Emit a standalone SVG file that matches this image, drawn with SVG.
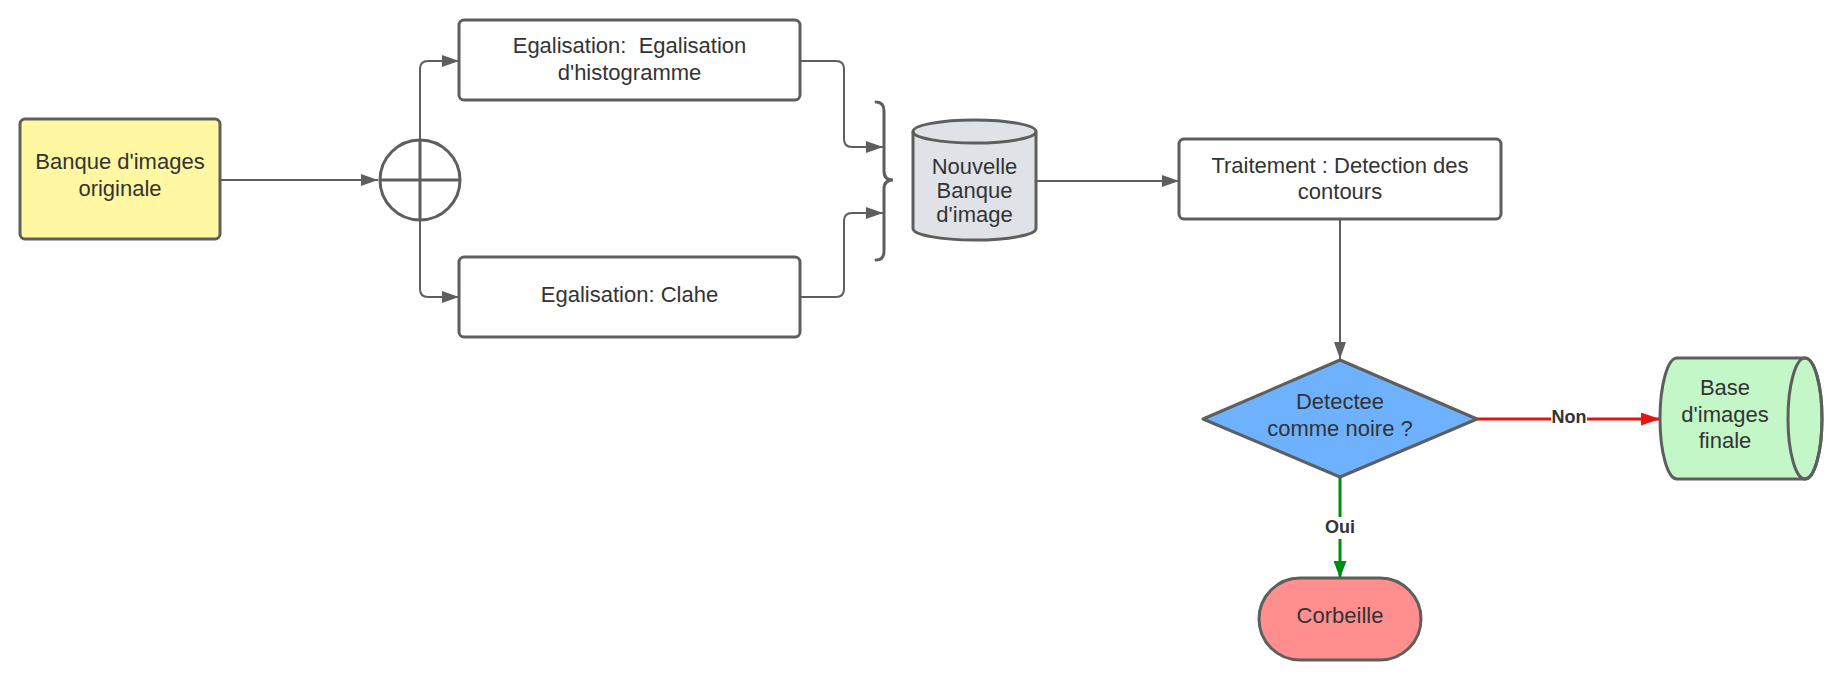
<svg xmlns="http://www.w3.org/2000/svg" width="1841" height="678" viewBox="0 0 1841 678">
<style>
.shape{stroke:#5e5e5e;stroke-width:3;stroke-linejoin:round}
.t{font-family:"Liberation Sans",Arial,sans-serif;font-size:22px;fill:#333333;text-anchor:middle;white-space:pre}
.lbl{font-family:"Liberation Sans",Arial,sans-serif;font-size:18px;font-weight:bold;fill:#333333;text-anchor:middle}
.c{fill:none;stroke:#5e5e5e;stroke-width:2;stroke-linejoin:round}
</style>
<defs>
<marker id="ag" markerWidth="17" markerHeight="12" refX="17" refY="6" orient="auto" markerUnits="userSpaceOnUse"><path d="M0,0 L17,6 L0,12 Z" fill="#5e5e5e"/></marker>
<marker id="ar" markerWidth="19" markerHeight="13" refX="19" refY="6.5" orient="auto" markerUnits="userSpaceOnUse"><path d="M0,0 L19,6.5 L0,13 Z" fill="#e81313"/></marker>
<marker id="agr" markerWidth="17" markerHeight="13" refX="17" refY="6.5" orient="auto" markerUnits="userSpaceOnUse"><path d="M0,0 L17,6.5 L0,13 Z" fill="#008a0e"/></marker>
</defs>
<rect width="1841" height="678" fill="#ffffff"/>
<g id="connectors">
<path class="c" d="M221,180 L378,180" marker-end="url(#ag)"/>
<path class="c" d="M420,140 L420,69 Q420,61 428,61 L459,61" marker-end="url(#ag)"/>
<path class="c" d="M420,220 L420,289 Q420,297 428,297 L459,297" marker-end="url(#ag)"/>
<path class="c" d="M800,61 L836,61 Q844,61 844,69 L844,139 Q844,147 852,147 L883,147" marker-end="url(#ag)"/>
<path class="c" d="M800,297 L836,297 Q844,297 844,289 L844,221 Q844,213 852,213 L883,213" marker-end="url(#ag)"/>
<path class="c" d="M1036,181 L1179,181" marker-end="url(#ag)"/>
<path class="c" d="M1340,219 L1340,359" marker-end="url(#ag)"/>
<path d="M1477,419 L1660,419" fill="none" stroke="#e81313" stroke-width="3" marker-end="url(#ar)"/>
<path d="M1340,477 L1340,578" fill="none" stroke="#008a0e" stroke-width="3" marker-end="url(#agr)"/>
<rect x="1551" y="408" width="36" height="20" fill="#ffffff"/>
<text class="lbl" x="1569" y="423">Non</text>
<rect x="1322" y="517" width="36" height="22" fill="#ffffff"/>
<text class="lbl" x="1340" y="533">Oui</text>
</g>
<g id="banque-originale">
<rect class="shape" x="20" y="119" width="200" height="120" rx="5" fill="#fff7a1"/>
<text class="t" x="120" y="169">Banque d'images</text>
<text class="t" x="120" y="196">originale</text>
</g>
<g id="jonction">
<circle class="shape" cx="420" cy="180" r="40" fill="#ffffff"/>
<path d="M380,180 L460,180 M420,140 L420,220" stroke="#5e5e5e" stroke-width="3"/>
</g>
<g id="egalisation-histogramme">
<rect class="shape" x="459" y="20" width="341" height="80" rx="5" fill="#ffffff"/>
<text class="t" x="629.5" y="53">Egalisation:  Egalisation</text>
<text class="t" x="629.5" y="80">d'histogramme</text>
</g>
<g id="egalisation-clahe">
<rect class="shape" x="459" y="257" width="341" height="80" rx="5" fill="#ffffff"/>
<text class="t" x="629.5" y="302">Egalisation: Clahe</text>
</g>
<g id="accolade">
<path d="M876,102 Q884,102 884,111 L884,171 Q884,180 893,180 Q884,180 884,189 L884,251 Q884,260 876,260" fill="none" stroke="#5e5e5e" stroke-width="3" stroke-linecap="round"/>
</g>
<g id="nouvelle-banque">
<path class="shape" d="M913,131.5 A61.5,11.5 0 0 1 1036,131.5 L1036,228.5 A61.5,11.5 0 0 1 913,228.5 Z" fill="#dfe3e8"/>
<path class="shape" d="M913,131.5 A61.5,11.5 0 0 0 1036,131.5" fill="none"/>
<text class="t" x="974.5" y="174">Nouvelle</text>
<text class="t" x="974.5" y="198">Banque</text>
<text class="t" x="974.5" y="222">d'image</text>
</g>
<g id="traitement">
<rect class="shape" x="1179" y="139" width="322" height="80" rx="5" fill="#ffffff"/>
<text class="t" x="1340" y="173">Traitement : Detection des</text>
<text class="t" x="1340" y="199">contours</text>
</g>
<g id="decision">
<path class="shape" d="M1340,360 L1477,419 L1340,477 L1203,419 Z" fill="#6db1ff"/>
<text class="t" x="1340" y="409">Detectee</text>
<text class="t" x="1340" y="436">comme noire ?</text>
</g>
<g id="base-finale">
<path class="shape" d="M1677,358 L1805,358 A17,60.5 0 0 1 1805,479 L1677,479 A17,60.5 0 0 1 1677,358 Z" fill="#c3f7c8"/>
<ellipse class="shape" cx="1805" cy="418.5" rx="17" ry="60.5" fill="none"/>
<text class="t" x="1725" y="395">Base</text>
<text class="t" x="1725" y="422">d'images</text>
<text class="t" x="1725" y="448">finale</text>
</g>
<g id="corbeille">
<rect class="shape" x="1259" y="578" width="162" height="82" rx="41" fill="#ff8f8f"/>
<text class="t" x="1340" y="623">Corbeille</text>
</g>
</svg>
